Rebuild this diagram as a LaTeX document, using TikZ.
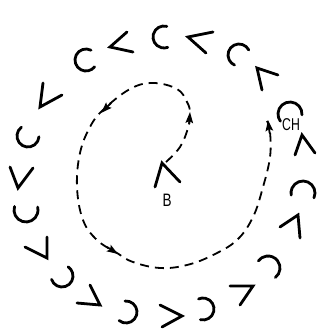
\documentclass[tikz,border=0pt]{standalone}
\usepackage{fontspec}
\newfontfamily\lblfont{Liberation Sans}
\usetikzlibrary{arrows.meta}
\newcommand\hbarc[4]{\draw[glyph] (#1) ++(#2:#4) arc[start angle=#2, end angle=#3, radius=#4];}
\begin{document}
\begin{tikzpicture}[x=1pt,y=-1pt,
  glyph/.style={line width=2.8pt, line cap=round, line join=miter},
  lbl/.style={inner sep=0pt, font=\lblfont\fontsize{18}{18}\selectfont},
  spiral/.style={line width=1.8pt, dash pattern=on 9pt off 6pt},
  tipa/.style={line width=1.8pt, -{Stealth[length=11pt,width=7.5pt,inset=2pt]}}]
\useasboundingbox (0,0) rectangle (322,331);
% angles and arcs around the spiral
\hbarc{86,60}{-63}{-322}{11}
\draw[glyph] (127,32) -- (110,47) -- (133,52);
\hbarc{164,37}{-75}{-290}{11}
\draw[glyph] (213,32) -- (188,37) -- (206,53);
\hbarc{239,55}{-27}{-246}{11}
\draw[glyph] (278,75) -- (257,68) -- (262,90);
\hbarc{290,114}{4}{-217}{12}
\draw[glyph] (295,155) -- (302,135) -- (315,153);
\hbarc{303,193}{24}{-190}{12}
\draw[glyph] (280,227) -- (298,215) -- (300,238);
\hbarc{268,268}{52}{-144}{12}
\draw[glyph] (230,286) -- (253,286) -- (240,305);
\hbarc{203,309}{104}{-114}{11}
\draw[glyph] (160,305) -- (182,316) -- (162,327);
\hbarc{126,312}{129}{-95}{11}
\draw[glyph] (90,285) -- (100,305) -- (77,303);
\hbarc{62,276}{-198}{-416}{11}
\draw[glyph] (47,237) -- (47,258) -- (25,247);
\hbarc{26,210}{-163}{-374}{12}
\draw[glyph] (10,167) -- (18,188) -- (33,168);
\hbarc{28,136}{-127}{-356}{11}
\draw[glyph] (43,83) -- (40,107) -- (62,95);
% central angle
\draw[glyph] (155,187) -- (162,163) -- (180,182);
% labels
\node[lbl] (B) at (167,200) {\scalebox{0.75}[1]{B}};
\node[lbl] (CH) at (291,125) {\scalebox{0.68}[0.95]{CH}};
% spiral path
\coordinate (s0) at (166,162);
\coordinate (s24) at (267,121);
\draw[spiral]
  plot[smooth, tension=0.65] coordinates {(s0) (180,147) (188,128) (190,113) (187,102) (177,89) (153,83) (130,89) (103,110) (90,127) (80,153) (77,187) (83,220) (97,240) (117,253) (133,262) (160,268) (187,265) (213,255) (237,240) (253,217) (263,187) (270,157) (270,132) (s24)};
% arrow heads along the spiral
\coordinate (a1s) at (189.2,124); \coordinate (a1e) at (190,112);
\coordinate (a2s) at (111,103); \coordinate (a2e) at (101,113);
\coordinate (a3s) at (107,247); \coordinate (a3e) at (118,254);
\coordinate (a4s) at (269.6,133); \coordinate (a4e) at (268,120);
\draw[tipa] (a1s) -- (a1e);
\draw[tipa] (a2s) -- (a2e);
\draw[tipa] (a3s) -- (a3e);
\draw[tipa] (a4s) -- (a4e);
\end{tikzpicture}
\end{document}
